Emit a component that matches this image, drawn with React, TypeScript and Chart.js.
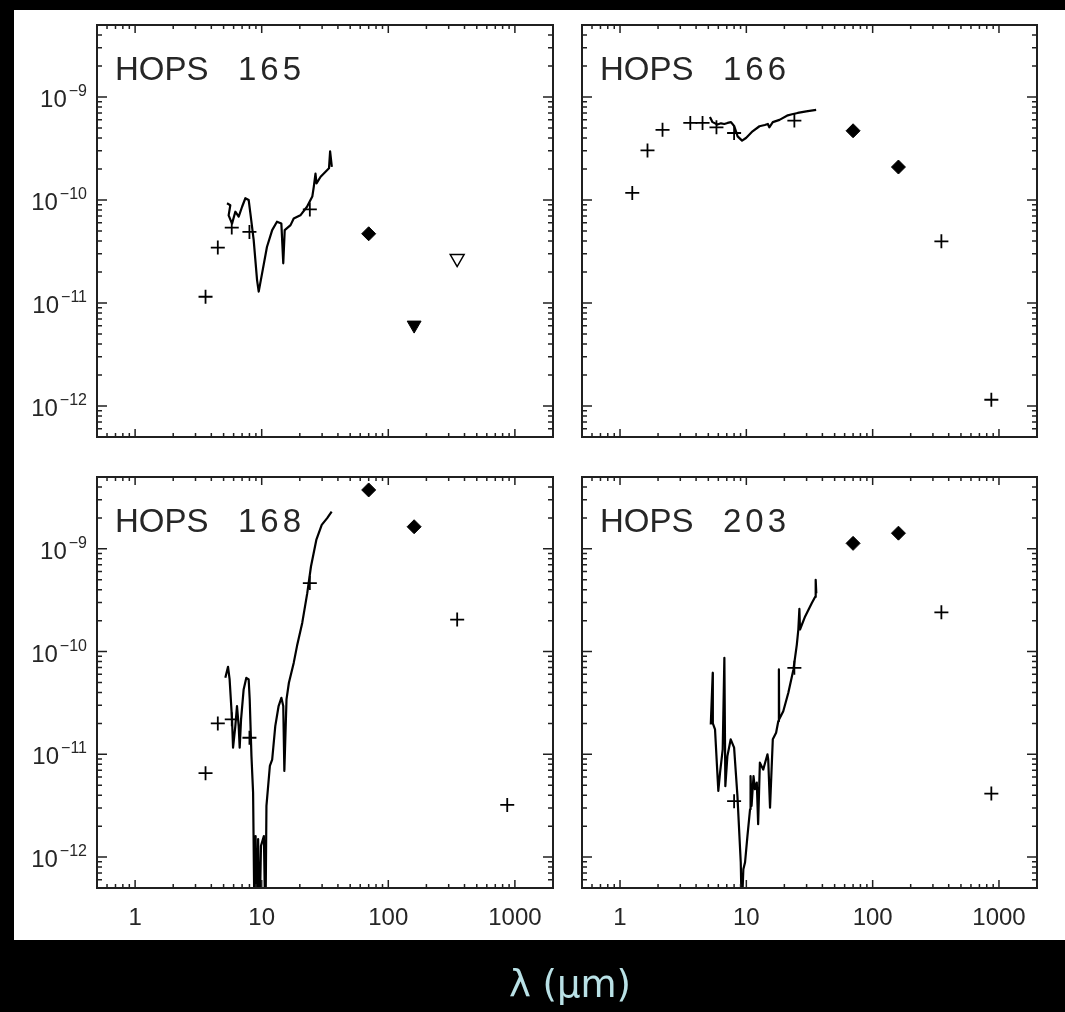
import React, { useEffect, useRef } from 'react';
import { Chart, registerables } from 'chart.js';

Chart.register(...registerables);

// ---------------- axis definitions ----------------
const xMin = 0.5;
const xMax = 2000;
const yMin = 5e-13;
const yMax = 5e-9;
const xMajorTicks = [1, 10, 100, 1000];
const xTickLabels = ['1', '10', '100', '1000'];
const yMajorTicks = [1e-12, 1e-11, 1e-10, 1e-9];
const yTickExponents = ['\u221212', '\u221211', '\u221210', '\u22129'];
const xAxisTitle = '\u03bb (\u03bcm)';

// ---------------- panel names ----------------
const panelNames = ['HOPS 165', 'HOPS 166', 'HOPS 168', 'HOPS 203'];

// ---------------- HOPS 165 ----------------
const phot165Wave = [3.6, 4.5, 5.8, 8.0, 24];
const phot165Flux = [1.15e-11, 3.45e-11, 5.4e-11, 4.9e-11, 8.1e-11];
const pacs165Wave = [70];
const pacs165Flux = [4.7e-11];
const limFilled165Wave = [160];
const limFilled165Flux = [6.1e-12];
const limOpen165Wave = [350];
const limOpen165Flux = [2.7e-11];
const spec165Wave = [5.32, 5.65, 5.48, 5.83, 6.19, 6.58, 7.0, 7.43, 7.89, 8.14, 8.64, 9.19, 9.47, 10.07, 11.0, 12.1, 13.2, 14.3, 14.8, 15.2, 16.9, 17.9, 20.2, 22.8, 25.1, 25.8, 26.6, 27.1, 29.2, 31.5, 34.0, 34.7, 35.8];
const spec165Flux = [9.3e-11, 8.9e-11, 7.1e-11, 5.9e-11, 7.7e-11, 6.9e-11, 8.6e-11, 1.04e-10, 1.0e-10, 7.4e-11, 4.1e-11, 1.67e-11, 1.29e-11, 1.94e-11, 3.5e-11, 5.1e-11, 6.15e-11, 5.9e-11, 2.43e-11, 5.1e-11, 5.7e-11, 6.6e-11, 7.1e-11, 8.6e-11, 1.08e-10, 1.35e-10, 1.8e-10, 1.45e-10, 1.68e-10, 1.85e-10, 2.03e-10, 2.96e-10, 2.1e-10];

// ---------------- HOPS 166 ----------------
const phot166Wave = [1.25, 1.65, 2.17, 3.6, 4.5, 5.8, 8.0, 24, 350, 870];
const phot166Flux = [1.17e-10, 3.03e-10, 4.8e-10, 5.6e-10, 5.6e-10, 5.08e-10, 4.47e-10, 5.9e-10, 3.97e-11, 1.15e-12];
const pacs166Wave = [70, 160];
const pacs166Flux = [4.7e-10, 2.09e-10];
const spec166Wave = [5.15, 5.4, 5.9, 6.3, 6.69, 7.1, 7.56, 8.03, 8.53, 9.25, 9.94, 11.2, 12.7, 14.0, 14.8, 15.2, 16.2, 18.3, 21.3, 23.0, 25.5, 29.8, 35.7];
const spec166Flux = [6.4e-10, 5.7e-10, 5.4e-10, 5.55e-10, 5.47e-10, 5.6e-10, 5.7e-10, 5.2e-10, 4.15e-10, 3.77e-10, 4.0e-10, 4.64e-10, 5.2e-10, 5.35e-10, 5.47e-10, 5.08e-10, 5.7e-10, 6.0e-10, 6.64e-10, 6.8e-10, 7.0e-10, 7.26e-10, 7.5e-10];

// ---------------- HOPS 168 ----------------
const phot168Wave = [3.6, 4.5, 5.8, 8.0, 24, 350, 870];
const phot168Flux = [6.55e-12, 2.0e-11, 2.19e-11, 1.45e-11, 4.64e-10, 2.05e-10, 3.22e-12];
const pacs168Wave = [70, 160];
const pacs168Flux = [3.74e-9, 1.64e-9];
const spec168Wave = [5.16, 5.42, 5.58, 5.83, 5.94, 6.19, 6.38, 6.58, 6.7, 6.87, 7.2, 7.56, 7.89, 8.04, 8.3, 8.55, 8.78, 8.95, 9.15, 9.37, 9.6, 9.87, 10.4, 10.7, 10.9, 11.6, 12.1, 12.8, 13.6, 14.3, 14.8, 15.1, 15.7, 16.4, 17.9, 19.0, 20.9, 22.9, 24.5, 27.0, 29.8, 32.9, 35.7];
const spec168Flux = [5.55e-11, 7.1e-11, 5.35e-11, 2.19e-11, 1.16e-11, 1.88e-11, 2.95e-11, 1.88e-11, 1.16e-11, 2.19e-11, 4.28e-11, 5.55e-11, 5.35e-11, 3.42e-11, 9.6e-12, 4.25e-12, 2e-13, 1.6e-12, 2e-13, 1.5e-12, 2e-13, 1.29e-12, 1.6e-12, 2e-13, 3.15e-12, 7.7e-12, 8.9e-12, 1.88e-11, 2.95e-11, 3.55e-11, 2.95e-11, 6.9e-12, 3.42e-11, 4.97e-11, 7.76e-11, 1.13e-10, 1.9e-10, 3.7e-10, 6.73e-10, 1.22e-9, 1.71e-9, 1.99e-9, 2.3e-9];

// ---------------- HOPS 203 ----------------
const phot203Wave = [8.0, 24, 350, 870];
const phot203Flux = [3.5e-12, 6.95e-11, 2.41e-10, 4.15e-12];
const pacs203Wave = [70, 160];
const pacs203Flux = [1.13e-9, 1.42e-9];
const spec203Wave = [5.23, 5.42, 5.43, 5.65, 6.0, 6.19, 6.5, 6.7, 6.82, 7.08, 7.52, 8.0, 8.5, 9.03, 9.2, 9.47, 9.77, 10.2, 10.7, 10.8, 11.0, 11.4, 11.7, 12.1, 12.4, 12.8, 13.6, 14.7, 14.9, 15.4, 16.2, 17.2, 17.9, 18.1, 18.2, 19.6, 21.5, 23.6, 25.1, 25.8, 26.3, 26.6, 29.2, 33.0, 35.0, 35.4, 35.8];
const spec203Flux = [1.95e-11, 6.2e-11, 2.0e-11, 1.75e-11, 4.4e-12, 6.6e-12, 1.12e-11, 8.7e-11, 4.9e-12, 9.6e-12, 1.4e-11, 1.16e-11, 3.94e-12, 8.9e-13, 3e-13, 7.6e-13, 8.9e-13, 1.6e-12, 2.92e-12, 6.15e-12, 3.15e-12, 6.15e-12, 4.57e-12, 5.3e-12, 2.09e-12, 8.3e-12, 7.1e-12, 1.0e-11, 8.9e-12, 3.03e-12, 1.4e-11, 1.62e-11, 2.1e-11, 6.7e-11, 2.19e-11, 2.63e-11, 3.97e-11, 6.7e-11, 1.17e-10, 1.64e-10, 2.6e-10, 1.64e-10, 2.2e-10, 2.97e-10, 3.4e-10, 5.0e-10, 3.7e-10];

// ---------------- layout (not data) ----------------
const PAGE_W = 1065;
const PAGE_H = 1012;
const FRAME = '#202020';
const TEXT = '#262626';
const panelBoxes = [
  { left: 97, top: 25, right: 553, bottom: 437, yLabels: true, xLabels: false },
  { left: 582, top: 25, right: 1037, bottom: 437, yLabels: false, xLabels: false },
  { left: 97, top: 477, right: 553, bottom: 888, yLabels: true, xLabels: true },
  { left: 582, top: 477, right: 1037, bottom: 888, yLabels: false, xLabels: true },
];

const pts = (xs: number[], ys: number[]) => xs.map((x, i) => ({ x, y: ys[i] }));

function minorValues(min: number, max: number, majors: number[]) {
  const out: number[] = [];
  const lo = Math.floor(Math.log10(min));
  const hi = Math.ceil(Math.log10(max));
  for (let e = lo; e <= hi; e++) {
    for (let k = 2; k <= 9; k++) {
      const v = k * Math.pow(10, e);
      if (v >= min * 0.999 && v <= max * 1.001 && !majors.includes(v)) out.push(v);
    }
  }
  return out;
}

const crossStyle = (xs: number[], ys: number[]) => ({
  data: pts(xs, ys),
  showLine: false,
  pointStyle: 'cross',
  pointRadius: 7,
  pointBorderColor: '#000',
  pointBorderWidth: 1.8,
  clip: false,
});
const diamondStyle = (xs: number[], ys: number[]) => ({
  data: pts(xs, ys),
  showLine: false,
  pointStyle: 'rectRot',
  pointRadius: 7,
  pointBackgroundColor: '#000',
  pointBorderColor: '#000',
  pointBorderWidth: 1,
  clip: false,
});
const triStyle = (xs: number[], ys: number[], filled: boolean) => ({
  data: pts(xs, ys),
  showLine: false,
  pointStyle: 'triangle',
  pointRotation: 180,
  pointRadius: 8,
  pointBackgroundColor: filled ? '#000' : '#fff',
  pointBorderColor: '#000',
  pointBorderWidth: filled ? 1 : 1.5,
  clip: false,
});
const specStyle = (xs: number[], ys: number[]) => ({
  data: pts(xs, ys),
  showLine: true,
  borderColor: '#000',
  borderWidth: 2.2,
  borderJoinStyle: 'round',
  pointRadius: 0,
  tension: 0,
  clip: 0,
});

function panelDatasets(idx: number) {
  if (idx === 0)
    return [
      crossStyle(phot165Wave, phot165Flux),
      diamondStyle(pacs165Wave, pacs165Flux),
      triStyle(limFilled165Wave, limFilled165Flux, true),
      triStyle(limOpen165Wave, limOpen165Flux, false),
      specStyle(spec165Wave, spec165Flux),
    ];
  if (idx === 1)
    return [
      crossStyle(phot166Wave, phot166Flux),
      diamondStyle(pacs166Wave, pacs166Flux),
      specStyle(spec166Wave, spec166Flux),
    ];
  if (idx === 2)
    return [
      crossStyle(phot168Wave, phot168Flux),
      diamondStyle(pacs168Wave, pacs168Flux),
      specStyle(spec168Wave, spec168Flux),
    ];
  return [
    crossStyle(phot203Wave, phot203Flux),
    diamondStyle(pacs203Wave, pacs203Flux),
    specStyle(spec203Wave, spec203Flux),
  ];
}

function axesPlugin(idx: number) {
  const box = panelBoxes[idx];
  return {
    id: 'idlAxes' + idx,
    afterDatasetsDraw(chart: any) {
      const { ctx, chartArea: a } = chart;
      const xs = chart.scales.x;
      const ys = chart.scales.y;
      ctx.save();
      ctx.strokeStyle = FRAME;
      ctx.lineWidth = 1.5;
      ctx.beginPath();
      const xTick = (v: number, len: number) => {
        const p = xs.getPixelForValue(v);
        ctx.moveTo(p, a.bottom);
        ctx.lineTo(p, a.bottom - len);
        ctx.moveTo(p, a.top);
        ctx.lineTo(p, a.top + len);
      };
      const yTick = (v: number, len: number) => {
        const p = ys.getPixelForValue(v);
        ctx.moveTo(a.left, p);
        ctx.lineTo(a.left + len, p);
        ctx.moveTo(a.right, p);
        ctx.lineTo(a.right - len, p);
      };
      xMajorTicks.forEach((v) => xTick(v, 8));
      minorValues(xMin, xMax, xMajorTicks).forEach((v) => xTick(v, 4));
      yMajorTicks.forEach((v) => yTick(v, 10));
      minorValues(yMin, yMax, yMajorTicks).forEach((v) => yTick(v, 5));
      ctx.stroke();

      ctx.lineWidth = 2;
      ctx.strokeRect(a.left, a.top, a.right - a.left, a.bottom - a.top);

      ctx.fillStyle = TEXT;
      ctx.textBaseline = 'alphabetic';
      if (box.yLabels) {
        yMajorTicks.forEach((v, i) => {
          const p = ys.getPixelForValue(v);
          ctx.textAlign = 'right';
          ctx.font = '16px "Liberation Sans", Arial, sans-serif';
          const ex = yTickExponents[i];
          ctx.fillText(ex, a.left - 10, p - 1);
          const w = ctx.measureText(ex).width;
          ctx.font = '24px "Liberation Sans", Arial, sans-serif';
          ctx.fillText('10', a.left - 10 - w - 2, p + 10);
        });
      }
      if (box.xLabels) {
        ctx.textAlign = 'center';
        ctx.font = '24px "Liberation Sans", Arial, sans-serif';
        xMajorTicks.forEach((v, i) => {
          ctx.fillText(xTickLabels[i], xs.getPixelForValue(v), a.bottom + 37);
        });
      }
      const parts = panelNames[idx].split(' ');
      ctx.textAlign = 'left';
      ctx.font = '33px "Liberation Sans", Arial, sans-serif';
      ctx.fillText(parts[0], a.left + 18, a.top + 55);
      if ('letterSpacing' in ctx) (ctx as any).letterSpacing = '4px';
      ctx.fillText(parts[1], a.left + 141, a.top + 55);
      if ('letterSpacing' in ctx) (ctx as any).letterSpacing = '0px';
      ctx.restore();
    },
  };
}

function PanelChart({ idx }: { idx: number }) {
  const ref = useRef<HTMLCanvasElement>(null);
  useEffect(() => {
    const box = panelBoxes[idx];
    const chart = new Chart(ref.current as HTMLCanvasElement, {
      type: 'scatter',
      data: { datasets: panelDatasets(idx) as any },
      options: {
        animation: false,
        responsive: false,
        events: [],
        layout: {
          padding: {
            left: box.left,
            top: box.top,
            right: PAGE_W - box.right,
            bottom: PAGE_H - box.bottom,
          },
        },
        plugins: {
          legend: { display: false },
          tooltip: { enabled: false },
          title: { display: false },
        },
        scales: {
          x: { type: 'logarithmic', min: xMin, max: xMax, display: false },
          y: { type: 'logarithmic', min: yMin, max: yMax, display: false },
        },
      } as any,
      plugins: [axesPlugin(idx)],
    });
    return () => chart.destroy();
  }, [idx]);
  return (
    <canvas
      ref={ref}
      width={PAGE_W}
      height={PAGE_H}
      style={{ position: 'absolute', left: 0, top: 0, width: PAGE_W, height: PAGE_H }}
    />
  );
}

export default function App() {
  return (
    <div
      style={{
        position: 'absolute',
        left: 0,
        top: 0,
        width: PAGE_W,
        height: PAGE_H,
        background: '#000',
        overflow: 'hidden',
      }}
    >
      <div style={{ position: 'absolute', left: 14, top: 10, width: PAGE_W - 14, height: 930, background: '#fff' }} />
      {[0, 1, 2, 3].map((i) => (
        <PanelChart key={i} idx={i} />
      ))}
      <div
        style={{
          position: 'absolute',
          left: 420,
          width: 300,
          top: 965,
          textAlign: 'center',
          fontFamily: '"DejaVu Sans", sans-serif',
          fontSize: 37,
          lineHeight: '40px',
          color: '#b9e1e6',
          whiteSpace: 'nowrap',
        }}
      >
        {xAxisTitle}
      </div>
    </div>
  );
}
